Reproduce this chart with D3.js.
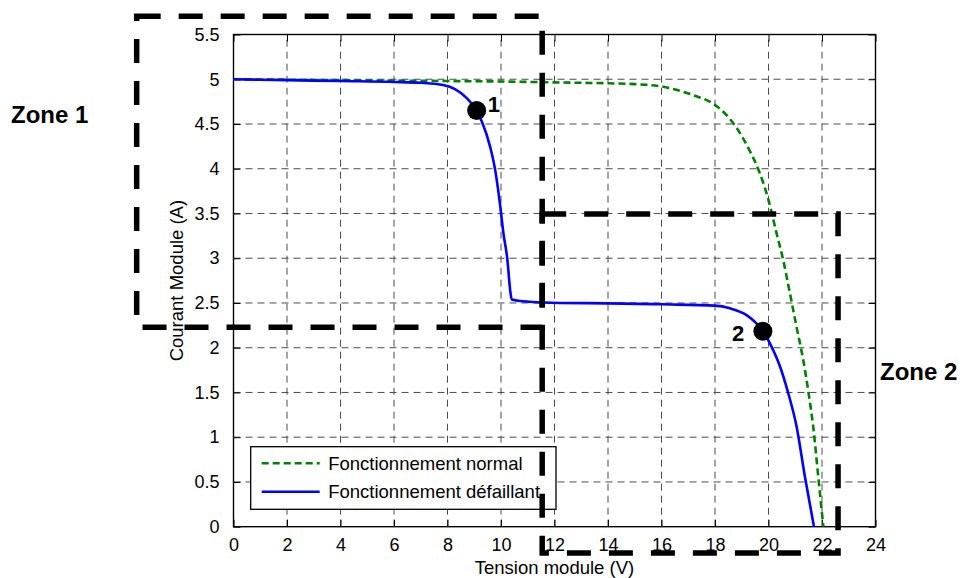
<!DOCTYPE html>
<html>
<head>
<meta charset="utf-8">
<script src="https://cdn.jsdelivr.net/npm/d3@7"></script>
<style>
  html, body { margin: 0; padding: 0; background: #fff; }
  svg { display: block; }
  text { font-family: "Liberation Sans", Arial, Helvetica, sans-serif; }
</style>
</head>
<body>
<svg id="chart" width="968" height="578"></svg>
<script>
// ---- Data ----
const xTicks = [0, 2, 4, 6, 8, 10, 12, 14, 16, 18, 20, 22, 24];
const yTicks = [0, 0.5, 1, 1.5, 2, 2.5, 3, 3.5, 4, 4.5, 5, 5.5];
const yTickLabels = ["0", "0.5", "1", "1.5", "2", "2.5", "3", "3.5", "4", "4.5", "5", "5.5"];

const seriesNames = ["Fonctionnement normal", "Fonctionnement défaillant"];

const normalV = [0, 2, 4, 6, 8, 10, 12, 13, 14, 15, 16, 16.7, 17.3, 17.8, 18.3, 18.8, 19.3, 19.65, 20.0, 20.3, 20.55, 20.8, 21.05, 21.3, 21.5, 21.67, 21.86, 22.05];
const normalI = [5.0, 4.995, 4.99, 4.985, 4.98, 4.975, 4.965, 4.96, 4.955, 4.945, 4.92, 4.87, 4.81, 4.75, 4.64, 4.46, 4.2, 3.97, 3.65, 3.28, 2.98, 2.61, 2.23, 1.86, 1.49, 1.12, 0.56, 0.0];

const faultV = [0, 2, 4, 6, 7, 7.84, 8.28, 8.72, 9.09, 9.28, 9.59, 9.78, 9.96, 10.09, 10.24, 10.34, 10.4, 11.08, 12.2, 14, 16, 18, 18.56, 19.18, 19.56, 19.8, 19.99, 20.43, 20.74, 21.05, 21.36, 21.7];
const faultI = [5.0, 4.99, 4.98, 4.97, 4.96, 4.935, 4.89, 4.79, 4.65, 4.53, 4.25, 3.99, 3.61, 3.28, 2.98, 2.65, 2.54, 2.514, 2.50, 2.496, 2.485, 2.47, 2.44, 2.365, 2.27, 2.19, 2.085, 1.79, 1.49, 1.12, 0.56, 0.0];

const pointLabels = ["1", "2"];
const pointV = [9.09, 19.79];
const pointI = [4.65, 2.185];

const zoneNames = ["Zone 1", "Zone 2"];
const zoneV0 = [-3.62, 11.54];
const zoneV1 = [11.54, 22.6];
const zoneI0 = [2.23, -0.294];
const zoneI1 = [5.703, 3.494];

// ---- Layout ----
const margin = { left: 233.5, top: 34.5, right: 968 - 875.5, bottom: 578 - 526.7 };
const W = 968, H = 578;
const pw = W - margin.left - margin.right;
const ph = H - margin.top - margin.bottom;

const x = d3.scaleLinear().domain([0, 24]).range([margin.left, margin.left + pw]);
const y = d3.scaleLinear().domain([0, 5.5]).range([margin.top + ph, margin.top]);

const svg = d3.select("#chart");
svg.append("rect").attr("width", W).attr("height", H).attr("fill", "#fff");

// grid
const grid = svg.append("g").attr("class", "grid");
grid.selectAll("line.gx").data(xTicks.slice(1, -1)).enter().append("line")
  .attr("x1", d => x(d)).attr("x2", d => x(d))
  .attr("y1", y(0)).attr("y2", y(5.5))
  .attr("stroke", "#4d4d4d").attr("stroke-width", 1)
  .attr("stroke-dasharray", "7,5");
grid.selectAll("line.gy").data(yTicks.slice(1, -1)).enter().append("line")
  .attr("y1", d => y(d)).attr("y2", d => y(d))
  .attr("x1", x(0)).attr("x2", x(24))
  .attr("stroke", "#4d4d4d").attr("stroke-width", 1)
  .attr("stroke-dasharray", "7,5");

// axes (inward ticks, box)
const tickLen = 7;
const xAxisB = d3.axisBottom(x).tickValues(xTicks).tickSizeInner(-tickLen).tickSizeOuter(0).tickPadding(tickLen + 5);
const xAxisT = d3.axisTop(x).tickValues(xTicks).tickSizeInner(-tickLen).tickSizeOuter(0).tickFormat("");
const yAxisL = d3.axisLeft(y).tickValues(yTicks).tickSizeInner(-tickLen).tickSizeOuter(0).tickPadding(tickLen + 7)
  .tickFormat((d, i) => yTickLabels[i]);
const yAxisR = d3.axisRight(y).tickValues(yTicks).tickSizeInner(-tickLen).tickSizeOuter(0).tickFormat("");

function styleAxis(g) {
  g.select(".domain").remove();
  g.selectAll(".tick line").attr("stroke", "#000").attr("stroke-width", 1);
  g.selectAll(".tick text").attr("fill", "#000").attr("font-size", 18)
    .attr("font-family", "'Liberation Sans', Arial, sans-serif");
}
svg.append("g").attr("transform", `translate(0,${y(0)})`).call(xAxisB).call(styleAxis);
svg.append("g").attr("transform", `translate(0,${y(5.5)})`).call(xAxisT).call(styleAxis);
svg.append("g").attr("transform", `translate(${x(0)},0)`).call(yAxisL).call(styleAxis);
svg.append("g").attr("transform", `translate(${x(24)},0)`).call(yAxisR).call(styleAxis);

svg.append("rect")
  .attr("x", x(0)).attr("y", y(5.5))
  .attr("width", pw).attr("height", ph)
  .attr("fill", "none").attr("stroke", "#000").attr("stroke-width", 1.4);

// axis titles
svg.append("text")
  .attr("x", (x(0) + x(24)) / 2).attr("y", 574)
  .attr("text-anchor", "middle").attr("font-size", 18.5).attr("fill", "#000")
  .text("Tension module (V)");
svg.append("text")
  .attr("transform", `translate(183,${(y(0) + y(5.5)) / 2}) rotate(-90)`)
  .attr("text-anchor", "middle").attr("font-size", 18.5).attr("fill", "#000")
  .text("Courant Module (A)");

// curves
const lineSmooth = d3.line().x(d => x(d[0])).y(d => y(d[1])).curve(d3.curveMonotoneX);
const normalData = normalV.map((v, i) => [v, normalI[i]]);
const faultData = faultV.map((v, i) => [v, faultI[i]]);

svg.append("path").datum(normalData).attr("d", lineSmooth)
  .attr("fill", "none").attr("stroke", "#008000").attr("stroke-width", 2.6)
  .attr("stroke-dasharray", "7,4");
svg.append("path").datum(faultData).attr("d", lineSmooth)
  .attr("fill", "none").attr("stroke", "#0000ff").attr("stroke-width", 2.6)
  .attr("stroke-linejoin", "round");

// marked points
const pts = pointV.map((v, i) => ({ v, c: pointI[i], label: pointLabels[i] }));
svg.selectAll("circle.pt").data(pts).enter().append("circle")
  .attr("cx", d => x(d.v)).attr("cy", d => y(d.c)).attr("r", 9.5).attr("fill", "#000");
svg.selectAll("text.pt").data(pts).enter().append("text")
  .attr("x", (d, i) => x(d.v) + (i === 0 ? 11 : -31))
  .attr("y", (d, i) => y(d.c) + (i === 0 ? 1 : 10))
  .attr("font-size", 22).attr("font-weight", "bold").attr("fill", "#000")
  .text(d => d.label);

// legend
const lg = svg.append("g");
const lx = 250.7, ly = 446.7, lw = 305.3, lh = 62.6;
lg.append("rect").attr("x", lx).attr("y", ly).attr("width", lw).attr("height", lh)
  .attr("fill", "#fff").attr("stroke", "#000").attr("stroke-width", 1.3);
const legStyles = [
  { color: "#008000", dash: "7,4" },
  { color: "#0000ff", dash: null }
];
seriesNames.forEach((name, i) => {
  const yy = ly + 16.5 + i * 28.5;
  const l = lg.append("line").attr("x1", lx + 11).attr("x2", lx + 69)
    .attr("y1", yy).attr("y2", yy)
    .attr("stroke", legStyles[i].color).attr("stroke-width", 2.6);
  if (legStyles[i].dash) l.attr("stroke-dasharray", legStyles[i].dash);
  lg.append("text").attr("x", lx + 77.5).attr("y", yy + 6.5)
    .attr("font-size", 18.5).attr("fill", "#000").text(name);
});

// zones (thick dashed rectangles)
const zones = zoneNames.map((n, i) => ({ n, v0: zoneV0[i], v1: zoneV1[i], i0: zoneI0[i], i1: zoneI1[i] }));
svg.selectAll("rect.zone").data(zones).enter().append("rect")
  .attr("x", d => x(d.v0)).attr("y", d => y(d.i1))
  .attr("width", d => x(d.v1) - x(d.v0)).attr("height", d => y(d.i0) - y(d.i1))
  .attr("fill", "none").attr("stroke", "#000").attr("stroke-width", 5.5)
  .attr("stroke-dasharray", "24,18");

// zone labels
svg.append("text").attr("x", 11).attr("y", 123)
  .attr("font-size", 24).attr("font-weight", "bold").attr("fill", "#000").text(zoneNames[0]);
svg.append("text").attr("x", 880).attr("y", 380)
  .attr("font-size", 24).attr("font-weight", "bold").attr("fill", "#000").text(zoneNames[1]);
</script>
</body>
</html>
